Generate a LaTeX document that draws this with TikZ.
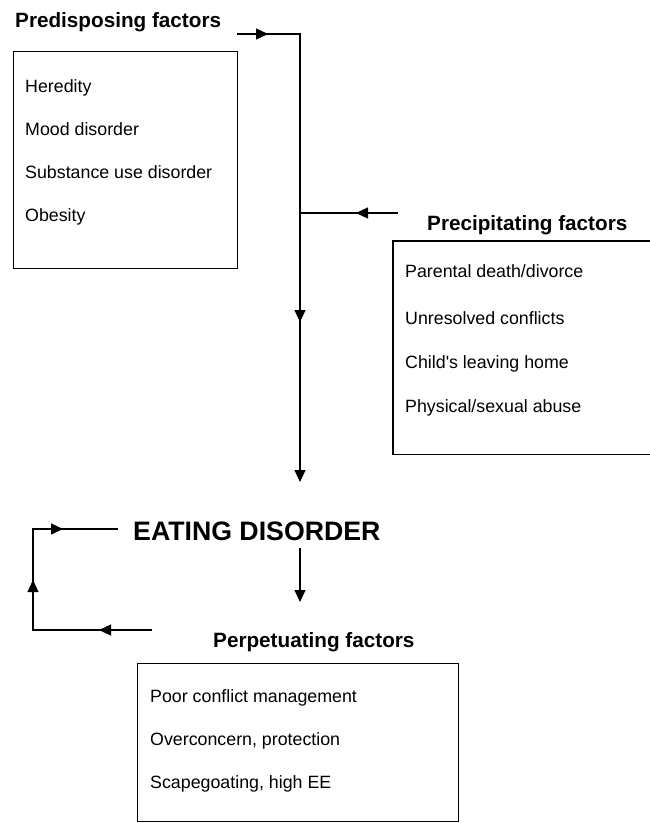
\documentclass[tikz,border=0pt]{standalone}
\usepackage{fontspec}
\setmainfont{Liberation Sans}
\usetikzlibrary{arrows.meta,decorations.markings}

\tikzset{
  tri/.tip={Triangle[length=12pt,width=11pt]},
  heading/.style={font=\fontsize{20.7}{24}\selectfont\bfseries, inner sep=0pt, anchor=base west},
  bigheading/.style={font=\fontsize{26.7}{30}\selectfont\bfseries, inner sep=0pt, anchor=base west},
  item/.style={font=\fontsize{17.8}{20}\selectfont, inner sep=0pt, anchor=base west},
  frame/.style={draw, line width=1.3pt, inner sep=0pt},
  link/.style={draw, line width=1.2pt},
  arrowsat/.style 2 args={postaction={decorate},
    decoration={markings, mark=at position #1 with {\arrow{tri}},
                           mark=at position #2 with {\arrow{tri}}}},
  arrowat/.style={postaction={decorate},
    decoration={markings, mark=at position #1 with {\arrow{tri}}}}
}

\begin{document}
\begin{tikzpicture}[x=1pt,y=-1pt]
\useasboundingbox (0,0) rectangle (650,823);

% Predisposing factors
\node[heading] (pretitle) at (15,27) {Predisposing factors};
\node[frame, minimum width=224pt, minimum height=217pt, anchor=north west] (prebox) at (13,51) {};
\node[item] (pre1) at (25,92)  {Heredity};
\node[item] (pre2) at (25,135) {Mood disorder};
\node[item] (pre3) at (25,178) {Substance use disorder};
\node[item] (pre4) at (25,221) {Obesity};

% Precipitating factors (box runs off to the right)
\node[heading] (pcttitle) at (427,230) {Precipitating factors};
\node[inner sep=0pt, minimum width=257pt, minimum height=213pt, anchor=north west] (pctbox) at (393,241) {};
\draw[frame] (pctbox.north east) -- (pctbox.north west) -- (pctbox.south west) -- (pctbox.south east);
\node[item] (pct1) at (405,277) {Parental death/divorce};
\node[item] (pct2) at (405,324) {Unresolved conflicts};
\node[item] (pct3) at (405,368) {Child\textquotesingle s leaving home};
\node[item] (pct4) at (405,412) {Physical/sexual abuse};

% Eating disorder
\node[bigheading] (ed) at (133,540) {EATING DISORDER};

% Perpetuating factors
\node[heading] (pptitle) at (213,647) {Perpetuating factors};
\node[frame, minimum width=321pt, minimum height=158pt, anchor=north west] (ppbox) at (137,663) {};
\node[item] (pp1) at (150,702) {Poor conflict management};
\node[item] (pp2) at (150,745) {Overconcern, protection};
\node[item] (pp3) at (150,788) {Scapegoating, high EE};

% connector end points
\coordinate (prestart) at (237,34);
\coordinate (precorner) at (300,34);
\coordinate (join) at (300,213);
\coordinate (pctstart) at (398,213);
\coordinate (edin) at (300,482);
\coordinate (edout) at (300,548);
\coordinate (ppin) at (300,602);
\coordinate (loopstart) at (152,630);
\coordinate (loopbl) at (33,630);
\coordinate (looptl) at (33,529);
\coordinate (loopend) at (118,529);

% main trunk from predisposing factors down to the disorder
\draw[link, -{tri}, arrowsat={31pt}{351pt}] (prestart) -- (precorner) -- (edin);
% precipitating factors join the trunk
\draw[link, arrowat={42pt}] (pctstart) -- (join);
% disorder to perpetuating factors
\draw[link, -{tri}] (edout) -- (ppin);
% feedback loop from perpetuating factors back to the disorder
\draw[link, postaction={decorate},
  decoration={markings,
    mark=at position 53pt with {\arrow{tri}},
    mark=at position 169pt with {\arrow{tri}},
    mark=at position 250pt with {\arrow{tri}}}]
  (loopstart) -- (loopbl) -- (looptl) -- (loopend);
\end{tikzpicture}
\end{document}
